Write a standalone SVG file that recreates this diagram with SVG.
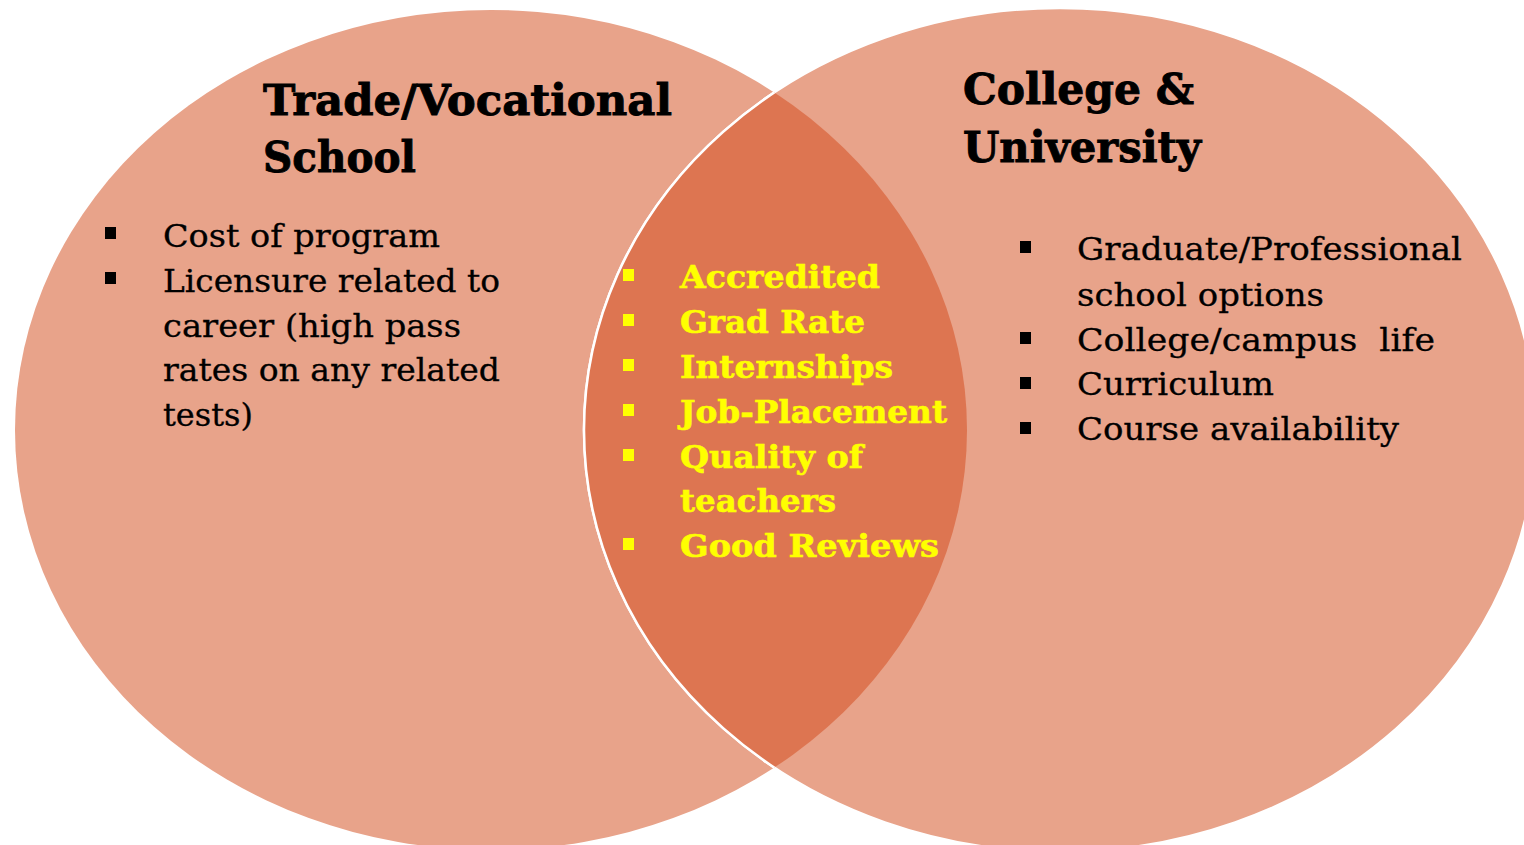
<svg xmlns="http://www.w3.org/2000/svg" width="1524" height="845" viewBox="0 0 1524 845">
<style>
.title{font-family:"DejaVu Serif","Liberation Serif",serif;font-weight:bold;font-size:43px;fill:#000;stroke:#000;stroke-width:0.9px}
.body{font-family:"DejaVu Serif","Liberation Serif",serif;font-size:31px;fill:#000;stroke:#000;stroke-width:0.3px}
.mid{font-family:"DejaVu Serif","Liberation Serif",serif;font-weight:bold;font-size:32px;fill:#FFFF00;stroke:#FFFF00;stroke-width:0.6px}
.bk{fill:#000}
.yb{fill:#FFFF00}
</style>
<defs>
<clipPath id="leftClip"><ellipse cx="491" cy="430" rx="476" ry="420"/></clipPath>
</defs>
<rect width="1524" height="845" fill="#fff"/>
<g id="trade">
<ellipse cx="491" cy="430" rx="476" ry="420" fill="#E8A38A"/>
</g>
<g id="college">
<ellipse cx="1060" cy="430" rx="476" ry="422" fill="#E8A38A" stroke="#fff" stroke-width="2.5"/>
</g>
<g id="overlap">
<ellipse cx="1060" cy="430" rx="476" ry="422" fill="#DD7551" stroke="#fff" stroke-width="2.5" clip-path="url(#leftClip)"/>
</g>
<g id="connectors"></g>
<g id="trade-text">
<text class="title" x="263" y="115" textLength="409" lengthAdjust="spacingAndGlyphs">Trade/Vocational</text>
<text class="title" x="263" y="172" textLength="153" lengthAdjust="spacingAndGlyphs">School</text>
<rect class="bk" x="105" y="227" width="11" height="12"/>
<rect class="bk" x="105" y="272" width="11" height="12"/>
<text class="body" x="163" y="247" textLength="277" lengthAdjust="spacingAndGlyphs">Cost of program</text>
<text class="body" x="163" y="292" textLength="337" lengthAdjust="spacingAndGlyphs">Licensure related to</text>
<text class="body" x="163" y="337" textLength="298" lengthAdjust="spacingAndGlyphs">career (high pass</text>
<text class="body" x="163" y="381" textLength="337" lengthAdjust="spacingAndGlyphs">rates on any related</text>
<text class="body" x="163" y="426" textLength="90" lengthAdjust="spacingAndGlyphs">tests)</text>
</g>
<g id="overlap-text">
<rect class="yb" x="623" y="269" width="11" height="12"/>
<rect class="yb" x="623" y="314" width="11" height="12"/>
<rect class="yb" x="623" y="359" width="11" height="12"/>
<rect class="yb" x="623" y="404" width="11" height="12"/>
<rect class="yb" x="623" y="449" width="11" height="12"/>
<rect class="yb" x="623" y="538" width="11" height="12"/>
<text class="mid" x="680" y="288" textLength="200" lengthAdjust="spacingAndGlyphs">Accredited</text>
<text class="mid" x="680" y="333" textLength="185" lengthAdjust="spacingAndGlyphs">Grad Rate</text>
<text class="mid" x="680" y="378" textLength="213" lengthAdjust="spacingAndGlyphs">Internships</text>
<text class="mid" x="680" y="423" textLength="267" lengthAdjust="spacingAndGlyphs">Job-Placement</text>
<text class="mid" x="680" y="468" textLength="183" lengthAdjust="spacingAndGlyphs">Quality of</text>
<text class="mid" x="680" y="512" textLength="156" lengthAdjust="spacingAndGlyphs">teachers</text>
<text class="mid" x="680" y="557" textLength="259" lengthAdjust="spacingAndGlyphs">Good Reviews</text>
</g>
<g id="college-text">
<text class="title" x="963" y="104" textLength="231" lengthAdjust="spacingAndGlyphs">College &amp;</text>
<text class="title" x="963" y="162" textLength="238" lengthAdjust="spacingAndGlyphs">University</text>
<rect class="bk" x="1020" y="241" width="11" height="12"/>
<rect class="bk" x="1020" y="332" width="11" height="12"/>
<rect class="bk" x="1020" y="377" width="11" height="12"/>
<rect class="bk" x="1020" y="422" width="11" height="12"/>
<text class="body" x="1077" y="260" textLength="385" lengthAdjust="spacingAndGlyphs">Graduate/Professional</text>
<text class="body" x="1077" y="306" textLength="247" lengthAdjust="spacingAndGlyphs">school options</text>
<text class="body" x="1077" y="351" textLength="358" lengthAdjust="spacingAndGlyphs" xml:space="preserve">College/campus  life</text>
<text class="body" x="1077" y="395" textLength="197" lengthAdjust="spacingAndGlyphs">Curriculum</text>
<text class="body" x="1077" y="440" textLength="322" lengthAdjust="spacingAndGlyphs">Course availability</text>
</g>
</svg>
